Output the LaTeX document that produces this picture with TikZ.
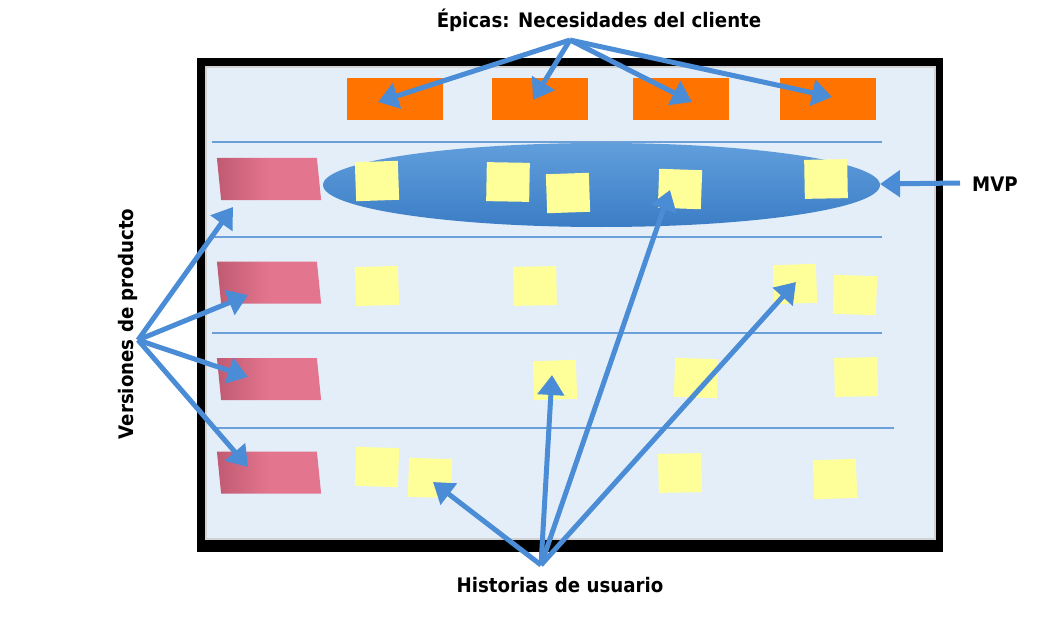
\documentclass[tikz,border=0pt]{standalone}
\usepackage{fontspec}
\usetikzlibrary{arrows.meta,shapes.geometric}
\newfontfamily\lblfont{DejaVu Sans}[FakeStretch=0.91]
\definecolor{boardfill}{HTML}{E4EEF8}
\definecolor{epicorange}{HTML}{FF7300}
\definecolor{notey}{HTML}{FFFF99}
\definecolor{pinkA}{HTML}{E3768E}
\definecolor{pinkD}{HTML}{C05A72}
\definecolor{arrowblue}{HTML}{4A8CD5}
\definecolor{lineblue}{HTML}{6A9FD8}
\definecolor{ellTop}{HTML}{619EDC}
\definecolor{ellBot}{HTML}{3B7DC5}
\tikzset{
  lbl/.style={font=\lblfont\bfseries\fontsize{20}{24}\selectfont, text=black, inner sep=0pt},
  epicbox/.style={rectangle, fill=epicorange, minimum width=96pt, minimum height=42pt, inner sep=0pt},
  storynote/.style={rectangle, fill=notey, minimum width=43pt, minimum height=39pt, inner sep=0pt},
  relbox/.style={rectangle, minimum width=100pt, minimum height=42pt, inner sep=0pt,
     xslant=-0.1, transform shape, left color=pinkD, right color=pinkA, middle color=pinkA},
  laneline/.style={draw=lineblue, line width=1.3pt},
  bigarrow/.style={draw=arrowblue, line width=5pt, -{Triangle[length=20pt,width=26pt]}},
}
\begin{document}
\begin{tikzpicture}[x=1pt,y=-1pt]
\useasboundingbox (0,0) rectangle (1051,631);
% board
\fill[black] (197,58) rectangle (943,552);
\fill[boardfill] (205,66) rectangle (936,540);
\draw[gray!35, line width=1.2pt] (206,67) rectangle (935,539);
% lanes
\draw[laneline] (212,142) -- (882,142);
\draw[laneline] (212,237) -- (882,237);
\draw[laneline] (212,333) -- (882,333);
\draw[laneline] (212,428) -- (894,428);
% epics
\node[epicbox] (e1) at (395,99) {};
\node[epicbox] (e2) at (540,99) {};
\node[epicbox] (e3) at (681,99) {};
\node[epicbox] (e4) at (828,99) {};
% MVP ellipse
\node[ellipse, minimum width=557pt, minimum height=84pt, inner sep=0pt, top color=ellTop, bottom color=ellBot] (mvpell) at (601.5,185) {};
% release boxes
\node[relbox] (p1) at (269,179) {};
\node[relbox] (p2) at (269,282.5) {};
\node[relbox] (p3) at (269,379) {};
\node[relbox] (p4) at (269,472.5) {};
% story notes
\node[storynote, rotate=2] (n11) at (377,181) {};
\node[storynote, rotate=-1] (n12) at (508,182) {};
\node[storynote, rotate=2] (n13) at (568,193) {};
\node[storynote, rotate=-2] (n14) at (680,189) {};
\node[storynote, rotate=1] (n15) at (826,179) {};
\node[storynote, rotate=2] (n21) at (377,286) {};
\node[storynote, rotate=1] (n22) at (535,286) {};
\node[storynote, rotate=2] (n23) at (795,284) {};
\node[storynote, rotate=-2] (n24) at (855,295) {};
\node[storynote, rotate=2] (n31) at (555,380) {};
\node[storynote, rotate=-2] (n32) at (696,378) {};
\node[storynote, rotate=1] (n33) at (856,377) {};
\node[storynote, rotate=-2] (n41) at (377,467) {};
\node[storynote, rotate=-2] (n42) at (430,478) {};
\node[storynote, rotate=1] (n43) at (680,473) {};
\node[storynote, rotate=2] (n44) at (835,479) {};
% labels
\node[lbl, anchor=base] (epicas) at (599,28) {Épicas: Necesidades del cliente};
\node[lbl, anchor=base west] (mvp) at (972,192) {MVP};
\node[lbl, rotate=90, anchor=base] (versiones) at (133,324) {Versiones de producto};
\node[lbl, anchor=base] (historias) at (560,592) {Historias de usuario};
% arrow sources
\coordinate (srcE) at (570,40);
\coordinate (srcM) at (960,183);
\coordinate (srcV) at (138,340);
\coordinate (srcH) at (541,565);
% arrow tips
\coordinate (tE1) at (378,102);
\coordinate (tE2) at (533,100);
\coordinate (tE3) at (692,102);
\coordinate (tE4) at (832,97);
\coordinate (tM) at (880,184);
\coordinate (tV1) at (233,207);
\coordinate (tV2) at (248,295);
\coordinate (tV3) at (248,377);
\coordinate (tV4) at (248,467);
\coordinate (tH1) at (433,482);
\coordinate (tH2) at (552,375);
\coordinate (tH3) at (670,190);
\coordinate (tH4) at (796,282);
% arrows
\draw[bigarrow] (srcE) -- (tE1);
\draw[bigarrow] (srcE) -- (tE2);
\draw[bigarrow] (srcE) -- (tE3);
\draw[bigarrow] (srcE) -- (tE4);
\draw[bigarrow] (srcM) -- (tM);
\draw[bigarrow] (srcV) -- (tV1);
\draw[bigarrow] (srcV) -- (tV2);
\draw[bigarrow] (srcV) -- (tV3);
\draw[bigarrow] (srcV) -- (tV4);
\draw[bigarrow] (srcH) -- (tH1);
\draw[bigarrow] (srcH) -- (tH2);
\draw[bigarrow] (srcH) -- (tH3);
\draw[bigarrow] (srcH) -- (tH4);
\end{tikzpicture}
\end{document}
